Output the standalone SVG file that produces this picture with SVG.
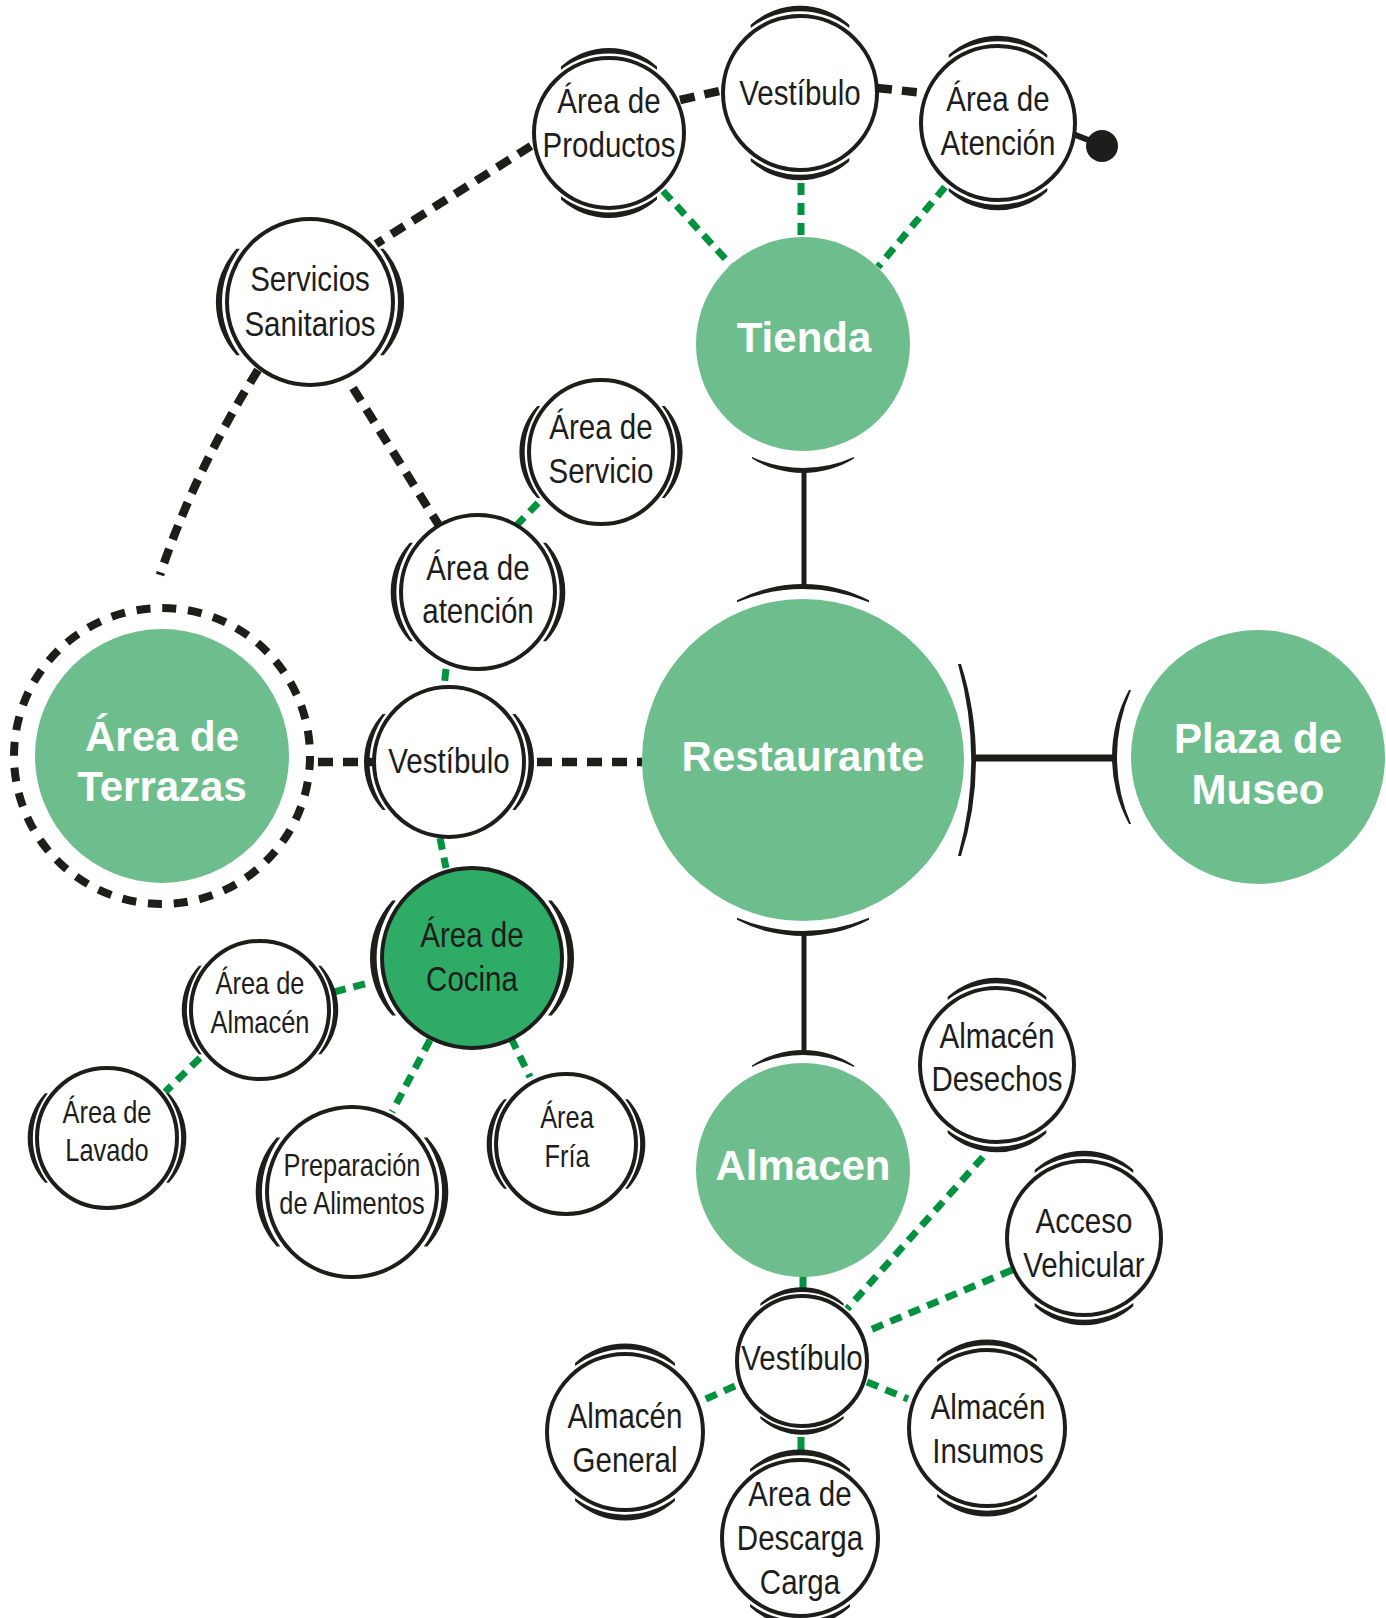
<svg xmlns="http://www.w3.org/2000/svg" xmlns:xlink="http://www.w3.org/1999/xlink" width="1386" height="1618" viewBox="0 0 1386 1618">
<style>
.bg{fill:#ffffff}
.node{fill:#ffffff;stroke:#1d1d1b;stroke-width:4}
.hub{fill:#6dbe8c}
.kitchen{fill:#2eac66;stroke:#1d1d1b;stroke-width:4}
.cap{fill:#1d1d1b}
.bd{fill:none;stroke:#1d1d1b;stroke-width:8.5;stroke-dasharray:15 10}
.gd{fill:none;stroke:#00923f;stroke-width:7;stroke-dasharray:12 8}
.gs{fill:none;stroke:#00923f;stroke-width:7}
.bs{fill:none;stroke:#1d1d1b;stroke-width:5}
.ring{fill:none;stroke:#1d1d1b;stroke-width:8;stroke-dasharray:14 11.83}
.lbl{font-family:"Liberation Sans",Arial,sans-serif;font-size:36px;fill:#1d1d1b;text-anchor:middle}
.sm{font-size:31px}
.big{font-family:"Liberation Sans",Arial,sans-serif;font-weight:bold;font-size:42px;fill:#ffffff;text-anchor:middle}
</style>
<defs>
<path id="capT" d="M -48 -63.37 L -48 -66.4 A 71.2 71.2 0 0 1 48 -66.4 L 48 -63.37 A 79.5 79.5 0 0 0 -48 -63.37 Z"/>
</defs>
<rect class="bg" x="0" y="0" width="1386" height="1618"/>

<g id="connectors">
  <line class="bd" x1="680" y1="100" x2="724" y2="90"/>
  <line class="bd" x1="877" y1="88" x2="924" y2="93"/>
  <line class="bd" x1="531" y1="146" x2="376" y2="244"/>
  <path class="bd" d="M 258 370 Q 195 470 160 575"/>
  <line class="bd" x1="353" y1="388" x2="440" y2="527"/>
  <line class="bd" x1="318" y1="762" x2="374" y2="762"/>
  <line class="bd" x1="537" y1="762" x2="642" y2="762"/>
  <line stroke="#1d1d1b" stroke-width="6" x1="1073" y1="134" x2="1096" y2="143"/>
  <line class="gd" x1="663" y1="191" x2="731" y2="265"/>
  <line class="gd" x1="801" y1="183" x2="801" y2="236"/>
  <line class="gd" x1="945" y1="187" x2="878" y2="267"/>
  <line class="gd" x1="538" y1="503" x2="514" y2="528"/>
  <line class="gd" x1="446" y1="669" x2="444" y2="687"/>
  <line class="gd" x1="440" y1="838" x2="446" y2="868"/>
  <line class="gd" x1="334" y1="992" x2="372" y2="982"/>
  <line class="gd" x1="200" y1="1058" x2="165" y2="1092"/>
  <line class="gd" x1="430" y1="1040" x2="392" y2="1112"/>
  <line class="gd" x1="511" y1="1038" x2="530" y2="1077"/>
  <line class="gs" x1="803" y1="1276" x2="803" y2="1291"/>
  <line class="gd" x1="983" y1="1157" x2="847" y2="1309"/>
  <line class="gd" x1="1012" y1="1270" x2="870" y2="1330"/>
  <line class="gd" x1="735" y1="1386" x2="697" y2="1403"/>
  <line class="gd" x1="867" y1="1382" x2="908" y2="1399"/>
  <line class="gs" x1="801" y1="1437" x2="801" y2="1451"/>
  <path class="cap" d="M 752 457 A 124 124 0 0 0 854 457 L 854 458.5 A 96.9 96.9 0 0 1 752 458.5 Z"/>
  <line class="bs" x1="804" y1="470" x2="804" y2="587"/>
  <path class="cap" d="M 737 602.3 A 171 171 0 0 1 869 602.3 L 869 600.3 A 141.8 141.8 0 0 0 737 600.3 Z"/>
  <path class="cap" d="M 737 917.7 A 171 171 0 0 0 869 917.7 L 869 919.7 A 141.8 141.8 0 0 1 737 919.7 Z"/>
  <line class="bs" x1="804" y1="934" x2="804" y2="1053"/>
  <path class="cap" d="M 752 1066.9 A 115 115 0 0 1 854 1066.9 L 854 1065.4 A 92.1 92.1 0 0 0 752 1065.4 Z"/>
  <path class="cap" d="M 958 664 A 361 361 0 0 1 958 856 L 961 856 A 314.7 314.7 0 0 0 961 664 Z"/>
  <line stroke="#1d1d1b" stroke-width="7" x1="973" y1="758" x2="1116" y2="758"/>
  <path class="cap" d="M 1129 690 A 140.5 140.5 0 0 0 1129 824 L 1131 824 A 167.3 167.3 0 0 1 1131 690 Z"/>
</g>

<g id="n-productos">
  <circle class="node" cx="609" cy="133" r="75"/>
  <use href="#capT" class="cap" transform="translate(609 133) scale(1)"/>
  <use href="#capT" class="cap" transform="translate(609 133) rotate(180) scale(1)"/>
  <g transform="translate(609 0) scale(0.82 1)"><text class="lbl" x="0" y="113">Área de</text><text class="lbl" x="0" y="157">Productos</text></g>
</g>
<g id="n-vestibulo-tienda">
  <circle class="node" cx="800" cy="93" r="77"/>
  <use href="#capT" class="cap" transform="translate(800 93) scale(1.027)"/>
  <use href="#capT" class="cap" transform="translate(800 93) rotate(180) scale(1.027)"/>
  <g transform="translate(800 0) scale(0.82 1)"><text class="lbl" x="0" y="105">Vestíbulo</text></g>
</g>
<g id="n-atencion-tienda">
  <circle class="node" cx="998" cy="123" r="77"/>
  <use href="#capT" class="cap" transform="translate(998 123) scale(1.027)"/>
  <use href="#capT" class="cap" transform="translate(998 123) rotate(180) scale(1.027)"/>
  <g transform="translate(998 0) scale(0.82 1)"><text class="lbl" x="0" y="111">Área de</text><text class="lbl" x="0" y="155">Atención</text></g>
</g>
<g id="n-punto">
  <circle fill="#1d1d1b" cx="1102" cy="146" r="16"/>
</g>
<g id="n-tienda">
  <circle class="hub" cx="803" cy="344" r="107"/>
  <text class="big" x="804" y="352">Tienda</text>
</g>
<g id="n-sanitarios">
  <circle class="node" cx="310" cy="302" r="83"/>
  <use href="#capT" class="cap" transform="translate(310 302) rotate(-90) scale(1.107)"/>
  <use href="#capT" class="cap" transform="translate(310 302) rotate(90) scale(1.107)"/>
  <g transform="translate(310 0) scale(0.82 1)"><text class="lbl" x="0" y="291">Servicios</text><text class="lbl" x="0" y="336">Sanitarios</text></g>
</g>
<g id="n-servicio">
  <circle class="node" cx="601" cy="452" r="72"/>
  <use href="#capT" class="cap" transform="translate(601 452) rotate(-90) scale(0.96)"/>
  <use href="#capT" class="cap" transform="translate(601 452) rotate(90) scale(0.96)"/>
  <g transform="translate(601 0) scale(0.82 1)"><text class="lbl" x="0" y="439">Área de</text><text class="lbl" x="0" y="483">Servicio</text></g>
</g>
<g id="n-atencion-rest">
  <circle class="node" cx="478" cy="592" r="77"/>
  <use href="#capT" class="cap" transform="translate(478 592) rotate(-90) scale(1.027)"/>
  <use href="#capT" class="cap" transform="translate(478 592) rotate(90) scale(1.027)"/>
  <g transform="translate(478 0) scale(0.82 1)"><text class="lbl" x="0" y="580">Área de</text><text class="lbl" x="0" y="623">atención</text></g>
</g>
<g id="n-terrazas">
  <circle class="ring" cx="162" cy="756" r="148"/>
  <circle class="hub" cx="162" cy="756" r="127"/>
  <text class="big" x="162" y="751">Área de</text>
  <text class="big" x="162" y="801">Terrazas</text>
</g>
<g id="n-vestibulo-rest">
  <circle class="node" cx="449" cy="762" r="75"/>
  <use href="#capT" class="cap" transform="translate(449 762) rotate(-90) scale(1)"/>
  <use href="#capT" class="cap" transform="translate(449 762) rotate(90) scale(1)"/>
  <g transform="translate(449 0) scale(0.82 1)"><text class="lbl" x="0" y="773">Vestíbulo</text></g>
</g>
<g id="n-restaurante">
  <circle class="hub" cx="803" cy="760" r="161"/>
  <text class="big" x="803" y="771">Restaurante</text>
</g>
<g id="n-plaza">
  <circle class="hub" cx="1258" cy="757" r="127"/>
  <text class="big" x="1258" y="753">Plaza de</text>
  <text class="big" x="1258" y="804">Museo</text>
</g>
<g id="n-cocina">
  <circle class="kitchen" cx="472" cy="958" r="90"/>
  <use href="#capT" class="cap" transform="translate(472 958) rotate(-90) scale(1.2)"/>
  <use href="#capT" class="cap" transform="translate(472 958) rotate(90) scale(1.2)"/>
  <g transform="translate(472 0) scale(0.82 1)"><text class="lbl" x="0" y="947">Área de</text><text class="lbl" x="0" y="991">Cocina</text></g>
</g>
<g id="n-almacen-cocina">
  <circle class="node" cx="260" cy="1010" r="69"/>
  <use href="#capT" class="cap" transform="translate(260 1010) rotate(-90) scale(0.92)"/>
  <use href="#capT" class="cap" transform="translate(260 1010) rotate(90) scale(0.92)"/>
  <g transform="translate(260 0) scale(0.82 1)"><text class="lbl sm" x="0" y="994">Área de</text><text class="lbl sm" x="0" y="1033">Almacén</text></g>
</g>
<g id="n-lavado">
  <circle class="node" cx="107" cy="1138" r="70"/>
  <use href="#capT" class="cap" transform="translate(107 1138) rotate(-90) scale(0.933)"/>
  <use href="#capT" class="cap" transform="translate(107 1138) rotate(90) scale(0.933)"/>
  <g transform="translate(107 0) scale(0.82 1)"><text class="lbl sm" x="0" y="1123">Área de</text><text class="lbl sm" x="0" y="1161">Lavado</text></g>
</g>
<g id="n-preparacion">
  <circle class="node" cx="352" cy="1192" r="85"/>
  <use href="#capT" class="cap" transform="translate(352 1192) rotate(-90) scale(1.133)"/>
  <use href="#capT" class="cap" transform="translate(352 1192) rotate(90) scale(1.133)"/>
  <g transform="translate(352 0) scale(0.82 1)"><text class="lbl sm" x="0" y="1176">Preparación</text><text class="lbl sm" x="0" y="1214">de Alimentos</text></g>
</g>
<g id="n-fria">
  <circle class="node" cx="566" cy="1144" r="70"/>
  <use href="#capT" class="cap" transform="translate(566 1144) rotate(-90) scale(0.933)"/>
  <use href="#capT" class="cap" transform="translate(566 1144) rotate(90) scale(0.933)"/>
  <g transform="translate(567 0) scale(0.82 1)"><text class="lbl sm" x="0" y="1128">Área</text><text class="lbl sm" x="0" y="1167">Fría</text></g>
</g>
<g id="n-almacen">
  <circle class="hub" cx="803" cy="1170" r="107"/>
  <text class="big" x="803" y="1180">Almacen</text>
</g>
<g id="n-desechos">
  <circle class="node" cx="997" cy="1065" r="77"/>
  <use href="#capT" class="cap" transform="translate(997 1065) scale(1.027)"/>
  <use href="#capT" class="cap" transform="translate(997 1065) rotate(180) scale(1.027)"/>
  <g transform="translate(997 0) scale(0.82 1)"><text class="lbl" x="0" y="1048">Almacén</text><text class="lbl" x="0" y="1091">Desechos</text></g>
</g>
<g id="n-acceso">
  <circle class="node" cx="1084" cy="1238" r="77"/>
  <use href="#capT" class="cap" transform="translate(1084 1238) scale(1.027)"/>
  <use href="#capT" class="cap" transform="translate(1084 1238) rotate(180) scale(1.027)"/>
  <g transform="translate(1084 0) scale(0.82 1)"><text class="lbl" x="0" y="1233">Acceso</text><text class="lbl" x="0" y="1277">Vehicular</text></g>
</g>
<g id="n-vestibulo-almacen">
  <circle class="node" cx="802" cy="1361" r="65"/>
  <use href="#capT" class="cap" transform="translate(802 1361) scale(0.867)"/>
  <use href="#capT" class="cap" transform="translate(802 1361) rotate(180) scale(0.867)"/>
  <g transform="translate(802 0) scale(0.82 1)"><text class="lbl" x="0" y="1370">Vestíbulo</text></g>
</g>
<g id="n-general">
  <circle class="node" cx="625" cy="1432" r="78"/>
  <use href="#capT" class="cap" transform="translate(625 1432) scale(1.04)"/>
  <use href="#capT" class="cap" transform="translate(625 1432) rotate(180) scale(1.04)"/>
  <g transform="translate(625 0) scale(0.82 1)"><text class="lbl" x="0" y="1428">Almacén</text><text class="lbl" x="0" y="1472">General</text></g>
</g>
<g id="n-insumos">
  <circle class="node" cx="987" cy="1428" r="78"/>
  <use href="#capT" class="cap" transform="translate(987 1428) scale(1.04)"/>
  <use href="#capT" class="cap" transform="translate(987 1428) rotate(180) scale(1.04)"/>
  <g transform="translate(988 0) scale(0.82 1)"><text class="lbl" x="0" y="1419">Almacén</text><text class="lbl" x="0" y="1463">Insumos</text></g>
</g>
<g id="n-descarga">
  <circle class="node" cx="800" cy="1538" r="78"/>
  <use href="#capT" class="cap" transform="translate(800 1538) scale(1.04)"/>
  <use href="#capT" class="cap" transform="translate(800 1538) rotate(180) scale(1.04)"/>
  <g transform="translate(800 0) scale(0.82 1)"><text class="lbl" x="0" y="1506">Area de</text><text class="lbl" x="0" y="1550">Descarga</text><text class="lbl" x="0" y="1594">Carga</text></g>
</g>
</svg>
